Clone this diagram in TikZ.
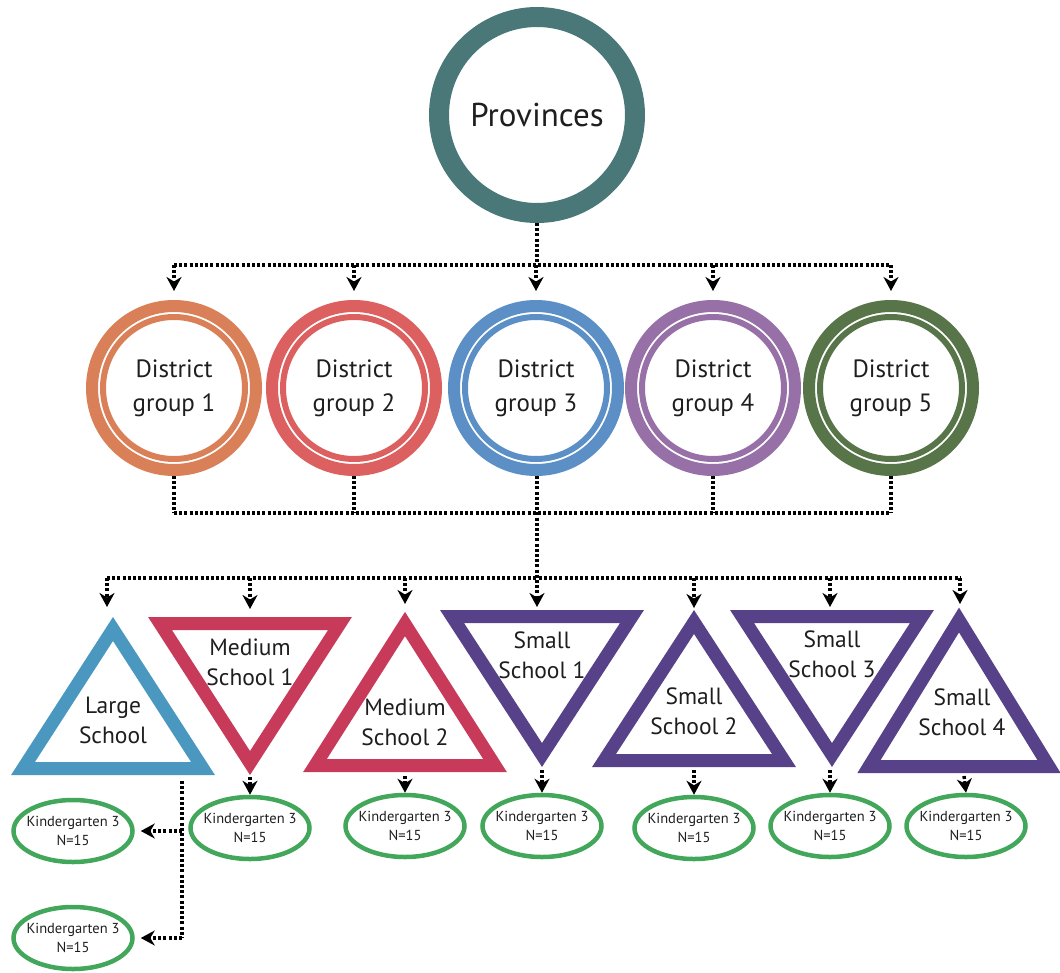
\documentclass[tikz,border=0pt]{standalone}
\usepackage{fontspec}
\setmainfont{PT Sans}
\usetikzlibrary{arrows.meta,shapes.geometric}
\definecolor{provc}{HTML}{4A7878}
\definecolor{dgA}{HTML}{DA8058}
\definecolor{dgB}{HTML}{DC6060}
\definecolor{dgC}{HTML}{5B8FC5}
\definecolor{dgD}{HTML}{9670A6}
\definecolor{dgE}{HTML}{587549}
\definecolor{largec}{HTML}{4A98C0}
\definecolor{medc}{HTML}{C83A5A}
\definecolor{smallc}{HTML}{574189}
\definecolor{kgc}{HTML}{42A75B}
\definecolor{txt}{HTML}{1E1E1E}
\begin{document}
\begin{tikzpicture}[x=1pt,y=-1pt,
  dotline/.style={line width=3.4pt, dash pattern=on 3pt off 2.2pt, black},
  arr/.style={-{Stealth[length=14pt,width=15pt,inset=4.5pt]}},
  ring/.style={circle, inner sep=0pt, line width=12pt, minimum size=164pt, align=center,
    font=\fontsize{25}{34}\selectfont, text=txt},
  inring/.style={line width=6pt},
  tri/.style={line width=13pt, line join=miter},
  lbl/.style={align=center, font=\fontsize{23.5}{30}\selectfont, text=txt},
  kg/.style={ellipse, draw=kgc, line width=4.5pt, minimum width=119pt, minimum height=62pt, inner sep=0pt},
  kgt/.style={align=center, font=\fontsize{14.5}{19}\selectfont, text=txt}
]
\useasboundingbox (0,0) rectangle (1060,972);

% Provinces
\node[circle, draw=provc, line width=20pt, minimum size=196pt, inner sep=0pt,
  font=\fontsize{33}{38}\selectfont, text=txt] (prov) at (537,115) {Provinces};

% District groups
\node[ring, draw=dgA] (dg1) at (174,388) {District\\group 1};
\node[ring, draw=dgB] (dg2) at (354,388) {District\\group 2};
\node[ring, draw=dgC] (dg3) at (536,388) {District\\group 3};
\node[ring, draw=dgD] (dg4) at (713,388) {District\\group 4};
\node[ring, draw=dgE] (dg5) at (891,388) {District\\group 5};
\draw[inring, dgA] (dg1.center) circle (71pt);
\draw[inring, dgB] (dg2.center) circle (71pt);
\draw[inring, dgC] (dg3.center) circle (71pt);
\draw[inring, dgD] (dg4.center) circle (71pt);
\draw[inring, dgE] (dg5.center) circle (71pt);

% Triangles
\draw[tri, largec] (113,629) -- (203,768.5) -- (23,768.5) -- cycle;
\draw[tri, medc] (160,623.5) -- (340,623.5) -- (250,763) -- cycle;
\draw[tri, medc] (405,624) -- (495,765.5) -- (315,765.5) -- cycle;
\draw[tri, smallc] (452,616.5) -- (632,616.5) -- (542,755) -- cycle;
\draw[tri, smallc] (694,622) -- (784,760.5) -- (604,760.5) -- cycle;
\draw[tri, smallc] (742,616.5) -- (922,616.5) -- (832,755) -- cycle;
\draw[tri, smallc] (959,620) -- (1049,766.5) -- (869,766.5) -- cycle;

\node[lbl] (ls) at (113,720) {Large\\School};
\node[lbl] (ms1) at (250,662) {Medium\\School 1};
\node[lbl] (ms2) at (405,722) {Medium\\School 2};
\node[lbl] (ss1) at (542,655) {Small\\School 1};
\node[lbl] (ss2) at (694,711) {Small\\School 2};
\node[lbl] (ss3) at (832,654) {Small\\School 3};
\node[lbl] (ss4) at (962,712) {Small\\School 4};

% Kindergartens
\node[kg, label={[kgt]center:Kindergarten 3\\N=15}] (kgA) at (73,831) {};
\node[kg, label={[kgt]center:Kindergarten 3\\N=15}] (kgB) at (73,938) {};
\node[kg, label={[kgt]center:Kindergarten 3\\N=15}] (kg1) at (250,828) {};
\node[kg, label={[kgt]center:Kindergarten 3\\N=15}] (kg2) at (405,826) {};
\node[kg, label={[kgt]center:Kindergarten 3\\N=15}] (kg3) at (542,826) {};
\node[kg, label={[kgt]center:Kindergarten 3\\N=15}] (kg4) at (694,828) {};
\node[kg, label={[kgt]center:Kindergarten 3\\N=15}] (kg5) at (830,826) {};
\node[kg, label={[kgt]center:Kindergarten 3\\N=15}] (kg6) at (966,826) {};

% connector coordinates
\coordinate (bus1) at (537,265);
\coordinate (bus2) at (536,513);
\coordinate (bus3) at (537,578);
\coordinate (lsin) at (107,607);
\coordinate (m1in) at (250,609);
\coordinate (m2in) at (405,604);
\coordinate (s1in) at (537,607);
\coordinate (s2in) at (694,608);
\coordinate (s3in) at (830,607);
\coordinate (s4in) at (960,604);
\coordinate (lsout) at (182,781);
\coordinate (m1out) at (250,777);
\coordinate (m2out) at (405,776);
\coordinate (s1out) at (542,770);
\coordinate (s2out) at (694,770);
\coordinate (s3out) at (830,770);
\coordinate (s4out) at (964,776);

% Provinces -> districts
\draw[dotline] (prov.south) -- (bus1);
\draw[dotline] (dg1.north |- bus1) -- (dg5.north |- bus1);
\foreach \n in {dg1,dg2,dg3,dg4,dg5}
  \draw[dotline, arr, shorten >=9pt] (\n.north |- bus1) -- (\n.north);

% districts -> schools
\foreach \n in {dg1,dg2,dg4,dg5}
  \draw[dotline] (\n.south) -- (\n.south |- bus2);
\draw[dotline] (dg1.south |- bus2) -- (dg5.south |- bus2);
\draw[dotline, arr] (dg3.south -| s1in) -- (s1in);
\draw[dotline] (lsin |- bus3) -- (s4in |- bus3);
\foreach \c in {lsin,m1in,m2in,s2in,s3in,s4in}
  \draw[dotline, arr] (\c |- bus3) -- (\c);

% schools -> kindergartens
\draw[dotline] (lsout) -- (lsout |- kgB.east);
\draw[dotline, arr, shorten >=6pt] (lsout |- kgA.east) -- (kgA.east);
\draw[dotline, arr, shorten >=6pt] (lsout |- kgB.east) -- (kgB.east);
\draw[dotline, arr] (m1out) -- (kg1.north);
\draw[dotline, arr] (m2out) -- (kg2.north);
\draw[dotline, arr] (s1out) -- (kg3.north);
\draw[dotline, arr] (s2out) -- (kg4.north);
\draw[dotline, arr] (s3out) -- (kg5.north);
\draw[dotline, arr] (s4out) -- (kg6.north);
\end{tikzpicture}
\end{document}
